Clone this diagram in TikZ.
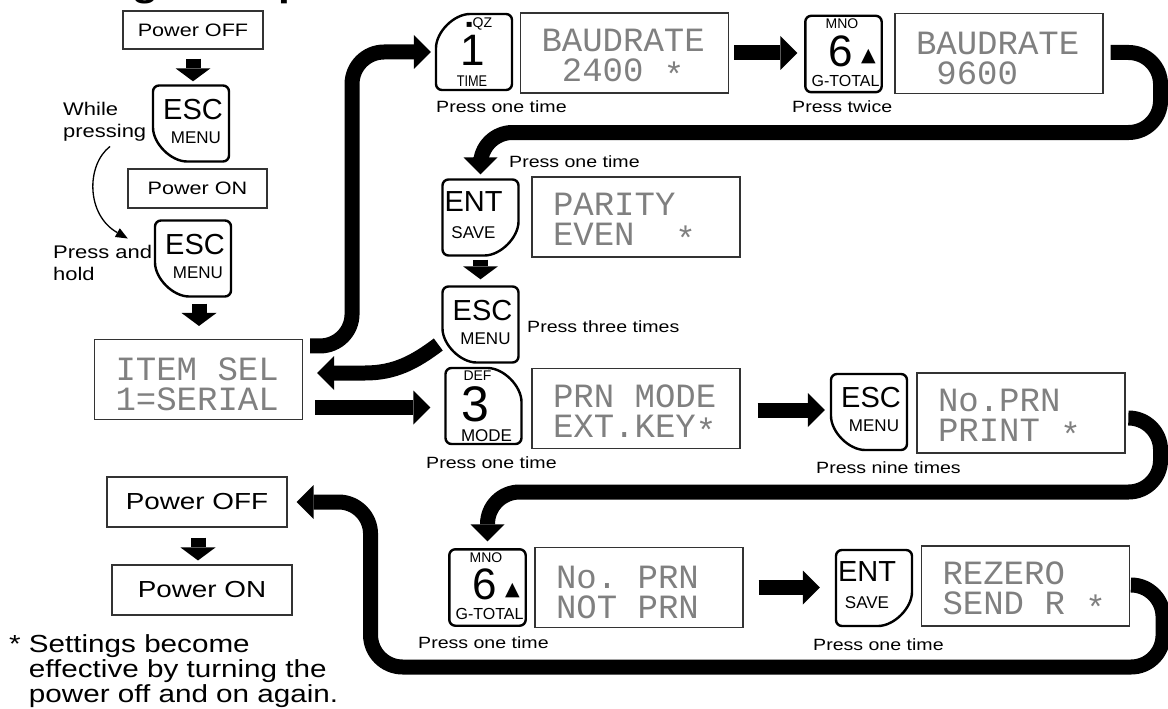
\documentclass[tikz,border=0pt]{standalone}
\usepackage{fontspec}
\setmainfont{Liberation Sans}[FakeStretch=1.2]
\newfontfamily\keyfont{Liberation Sans}
\newfontfamily\keynarrow{Liberation Sans}[FakeStretch=0.82]
\newfontfamily\lcdfont{Liberation Mono}
\newfontfamily\symfont{DejaVu Sans}
\usetikzlibrary{calc,positioning,arrows.meta}
\definecolor{rulegray}{gray}{0.2}
\definecolor{lcdink}  {gray}{0.5}
\newcommand{\setsz}[2]{\fontsize{#1}{#2}\selectfont}
\newcommand{\lcdup}{\rule{0pt}{32pt}}
\newcommand{\lcs}{\makebox[0.6em]{}}
\newcommand{\lcdast}{\raisebox{-5pt}{*}}
% key outline, the big curved corner sits bottom left before flipping
\newcommand{\keyframe}[3]{%
  \draw[keyline, shift={(#1.center)}, xscale=#2, yscale=#3]
    (0,-38) -- (38,-38) -- (38,38) -- (2,38)
    .. controls (-20,38) and (-38,20) .. (-38,-2) -- (-38,-38) -- cycle;}

\begin{document}
\begin{tikzpicture}[x=1pt, y=-1pt,
    pwrbox/.style={draw=rulegray, line width=1.1pt, inner sep=0pt},
    lcd/.style={draw=rulegray, line width=1.1pt, text width=166pt,
      inner xsep=21pt, inner ysep=0pt, minimum height=80pt, align=left,
      text=lcdink, font=\lcdfont\setsz{34}{30}},
    keycap/.style={minimum size=78pt, inner sep=0pt},
    keyline/.style={line width=2.4pt, rounded corners=6pt},
    keybig/.style={inner sep=0pt, font=\keyfont\setsz{29}{29}},
    keysmall/.style={inner sep=0pt, font=\keyfont\setsz{17}{17}},
    keytiny/.style={inner sep=0pt, font=\keyfont\setsz{14}{14}},
    keydigit/.style={inner sep=0pt, font=\keyfont\setsz{44}{44}},
    presslbl/.style={anchor=base west, inner sep=0pt, font=\setsz{16.3}{18}},
    sidelbl/.style={anchor=north west, inner sep=0pt, align=left,
      font=\setsz{18.3}{22}},
    fatarrow/.style={line width=15pt, rounded corners=32pt,
      -{Triangle[width=34pt,length=17pt,line width=0pt]}},
    stubarrow/.style={line width=15pt,
      -{Triangle[width=35pt,length=13pt,line width=0pt]}},
    thinarrow/.style={line width=1.3pt,
      -{Triangle[width=10pt,length=12pt,line width=0pt]}}]
  \useasboundingbox (0,0) rectangle (1168,709);

  \node[anchor=base west, inner sep=0pt, font=\bfseries\setsz{35.4}{36}]
    (title) at (14,-3) {Setting example};

  % left column
  \node[pwrbox, minimum width=140pt, minimum height=38pt, font=\setsz{18}{18}]
    (offA) at (193,30) {Power OFF};
  \node[keycap] (escA) at (191,123.5) {};
  \keyframe{escA}{1}{1}
  \node[keybig]   (escAm) at ($(escA)+(2,-14)$) {ESC};
  \node[keysmall] (escAs) at ($(escA)+(5,14)$)  {MENU};
  \node[pwrbox, minimum width=139pt, minimum height=39pt, font=\setsz{18}{18}]
    (onA) at (197.5,188.5) {Power ON};
  \node[keycap] (escB) at (193,258.5) {};
  \keyframe{escB}{1}{1}
  \node[keybig]   (escBm) at ($(escB)+(2,-14)$) {ESC};
  \node[keysmall] (escBs) at ($(escB)+(5,14)$)  {MENU};
  \node[sidelbl] (whileTxt) at (63,102) {While\\pressing};
  \node[sidelbl] (holdTxt)  at (53,245) {Press and\\hold};
  \node[lcd] (itemSel) at (198.5,379.5) {\lcdup ITEM\lcs SEL\\1=SERIAL};
  \node[pwrbox, minimum width=180pt, minimum height=50pt, font=\setsz{23.2}{24}]
    (offB) at (197,502) {Power OFF};
  \node[pwrbox, minimum width=180pt, minimum height=50pt, font=\setsz{23.2}{24}]
    (onB) at (202,590) {Power ON};
  \node[anchor=north west, inner sep=0pt, align=left, font=\setsz{24.7}{25}]
    (note) at (9,634) {*~Settings become\\
      \hphantom{*~}effective by turning the\\
      \hphantom{*~}power off and on again.};

  % baud rate row
  \node[keycap] (key1) at (474,52) {};
  \keyframe{key1}{1}{-1}
  \node[keytiny]  (key1t) at ($(key1)+(5,-28.5)$) {{\symfont\setsz{10}{10}▪}QZ};
  \node[keydigit] (key1m) at ($(key1)+(-1,-2)$) {1};
  \node[inner sep=0pt, font=\keynarrow\setsz{15.5}{16}]
    (key1s) at ($(key1)+(-2,29.5)$) {TIME};
  \node[lcd] (lcdA) at (624.5,53) {\lcdup BAUDRATE\\\lcs 2400\lcs\lcdast};
  \node[keycap] (key6A) at (843.5,54) {};
  \draw[keyline] ($(key6A.north west)+(1,1)$) rectangle ($(key6A.south east)+(-1,-1)$);
  \node[keytiny]  (key6At) at ($(key6A)+(-1.5,-30)$) {MNO};
  \node[keydigit] (key6Am) at ($(key6A)+(-3,-3)$) {6};
  \node[inner sep=0pt, font=\symfont\setsz{19}{19}] (key6Ay) at ($(key6A)+(25,3)$) {▲};
  \node[inner sep=0pt, font=\keyfont\setsz{16}{16}] (key6As) at ($(key6A)+(2,26.5)$) {G-TOTAL};
  \node[lcd] (lcdB) at (999,53.5) {\lcdup BAUDRATE\\\lcs 9600};
  \node[presslbl] (pressA) at (436,112) {Press one time};
  \node[presslbl] (pressB) at (792,113) {Press twice};

  % parity
  \node[keycap] (entA) at (480.5,217.5) {};
  \keyframe{entA}{-1}{1}
  \node[keybig]   (entAm) at ($(entA)+(-7,-16)$) {ENT};
  \node[keysmall] (entAs) at ($(entA)+(-7,15)$)  {SAVE};
  \node[lcd] (lcdC) at (636,217) {\lcdup PARITY\\EVEN\lcs\lcs\lcdast};
  \node[presslbl] (pressC) at (509,167) {Press one time};
  \node[keycap] (escC) at (480.5,324.5) {};
  \keyframe{escC}{1}{1}
  \node[keybig]   (escCm) at ($(escC)+(2,-14)$) {ESC};
  \node[keysmall] (escCs) at ($(escC)+(5,14)$)  {MENU};
  \node[presslbl] (pressD) at (527,332) {Press three times};

  % printer row
  \node[keycap] (key3) at (483.5,406) {};
  \keyframe{key3}{-1}{-1}
  \node[keytiny]  (key3t) at ($(key3)+(-6,-30)$) {DEF};
  \node[inner sep=0pt, font=\keyfont\setsz{50}{50}] (key3m) at ($(key3)+(-8,-2)$) {3};
  \node[keysmall] (key3s) at ($(key3)+(3,29.5)$) {MODE};
  \node[lcd] (lcdE) at (636,408.5) {\lcdup PRN\lcs MODE\\EXT.KEY\lcdast};
  \node[presslbl] (pressE) at (426,468) {Press one time};
  \node[keycap] (escD) at (869,412) {};
  \keyframe{escD}{1}{1}
  \node[keybig]   (escDm) at ($(escD)+(2,-14)$) {ESC};
  \node[keysmall] (escDs) at ($(escD)+(5,14)$)  {MENU};
  \node[lcd] (lcdF) at (1021,413) {\lcdup No.PRN\\PRINT\lcs\lcdast};
  \node[presslbl] (pressF) at (816,473) {Press nine times};

  % rezero row
  \node[keycap] (key6B) at (487.5,587.5) {};
  \draw[keyline] ($(key6B.north west)+(1,1)$) rectangle ($(key6B.south east)+(-1,-1)$);
  \node[keytiny]  (key6Bt) at ($(key6B)+(-1.5,-30)$) {MNO};
  \node[keydigit] (key6Bm) at ($(key6B)+(-3,-3)$) {6};
  \node[inner sep=0pt, font=\symfont\setsz{19}{19}] (key6By) at ($(key6B)+(25,3)$) {▲};
  \node[inner sep=0pt, font=\keyfont\setsz{16}{16}] (key6Bs) at ($(key6B)+(2,26.5)$) {G-TOTAL};
  \node[lcd] (lcdG) at (639,587.5) {\lcdup No.\lcs PRN\\NOT\lcs PRN};
  \node[presslbl] (pressG) at (418,648) {Press one time};
  \node[keycap] (entB) at (874,588) {};
  \keyframe{entB}{-1}{1}
  \node[keybig]   (entBm) at ($(entB)+(-7,-16)$) {ENT};
  \node[keysmall] (entBs) at ($(entB)+(-7,15)$)  {SAVE};
  \node[lcd] (lcdH) at (1025.5,586) {\lcdup REZERO\\SEND\lcs R\lcs\lcdast};
  \node[presslbl] (pressH) at (813,650) {Press one time};

  % short arrows
  \draw[stubarrow] ($(offA.south)+(0,9)$) -- ($(escA.north)+(2,-3)$);
  \draw[stubarrow] ($(escB.south)+(6,6)$) -- ($(itemSel.north)+(0.5,-13)$);
  \draw[stubarrow] ($(entA.south)+(0,3)$) -- ($(escC.north)+(0,-6)$);
  \draw[stubarrow] ($(offB.south)+(1,10)$) -- ($(onB.north)+(-4,-4)$);
  \draw[thinarrow] ($(whileTxt.south west)+(47,5)$)
    .. controls (86,165) and (86,215) .. ($(escB.west)+(-26,-20)$);

  % long arrows
  \draw[fatarrow] ($(itemSel.north east)+(7,7)$) -- ++(42,0)
    |- ($(key1.west)+(-4,0)$);
  \draw[fatarrow] ($(lcdA.east)+(5,0)$) -- ($(lcdA.east -| key6A.west)+(-7,0)$);
  \draw[fatarrow] ($(lcdB.east)+(7,-1)$) -- ++(50,0) -- ++(0,80)
    -| ($(entA.north)+(0,-4)$);
  \draw[line width=15pt, -{Triangle[width=34pt,length=17pt,line width=0pt]}]
    ($(escC.west)+(-3,20)$) .. controls (415,362) and (395,373) .. (365,373)
    -- ($(itemSel.east)+(14,-6.5)$);
  \draw[fatarrow] ($(itemSel.east)+(12,28)$) -- ($(itemSel.east -| key3.west)+(-14,28)$);
  \draw[fatarrow] ($(lcdE.east)+(17,1.5)$) -- ($(lcdE.east -| escD.west)+(-5,1.5)$);
  \draw[fatarrow] ($(lcdF.east)+(5,5)$) -- ++(30,0) -- ++(0,74)
    -| ($(key6B.north)+(0,-7)$);
  \draw[fatarrow] ($(lcdG.east)+(15,0)$) -- ($(lcdG.east -| entB.west)+(-15,0)$);
  \draw[fatarrow] ($(lcdH.east)+(5,-1)$) -- ++(28,0) -- ++(0,82)
    -| ($(offB.east)+(83,0)$) -- ($(offB.east)+(9,0)$);
\end{tikzpicture}
\end{document}
